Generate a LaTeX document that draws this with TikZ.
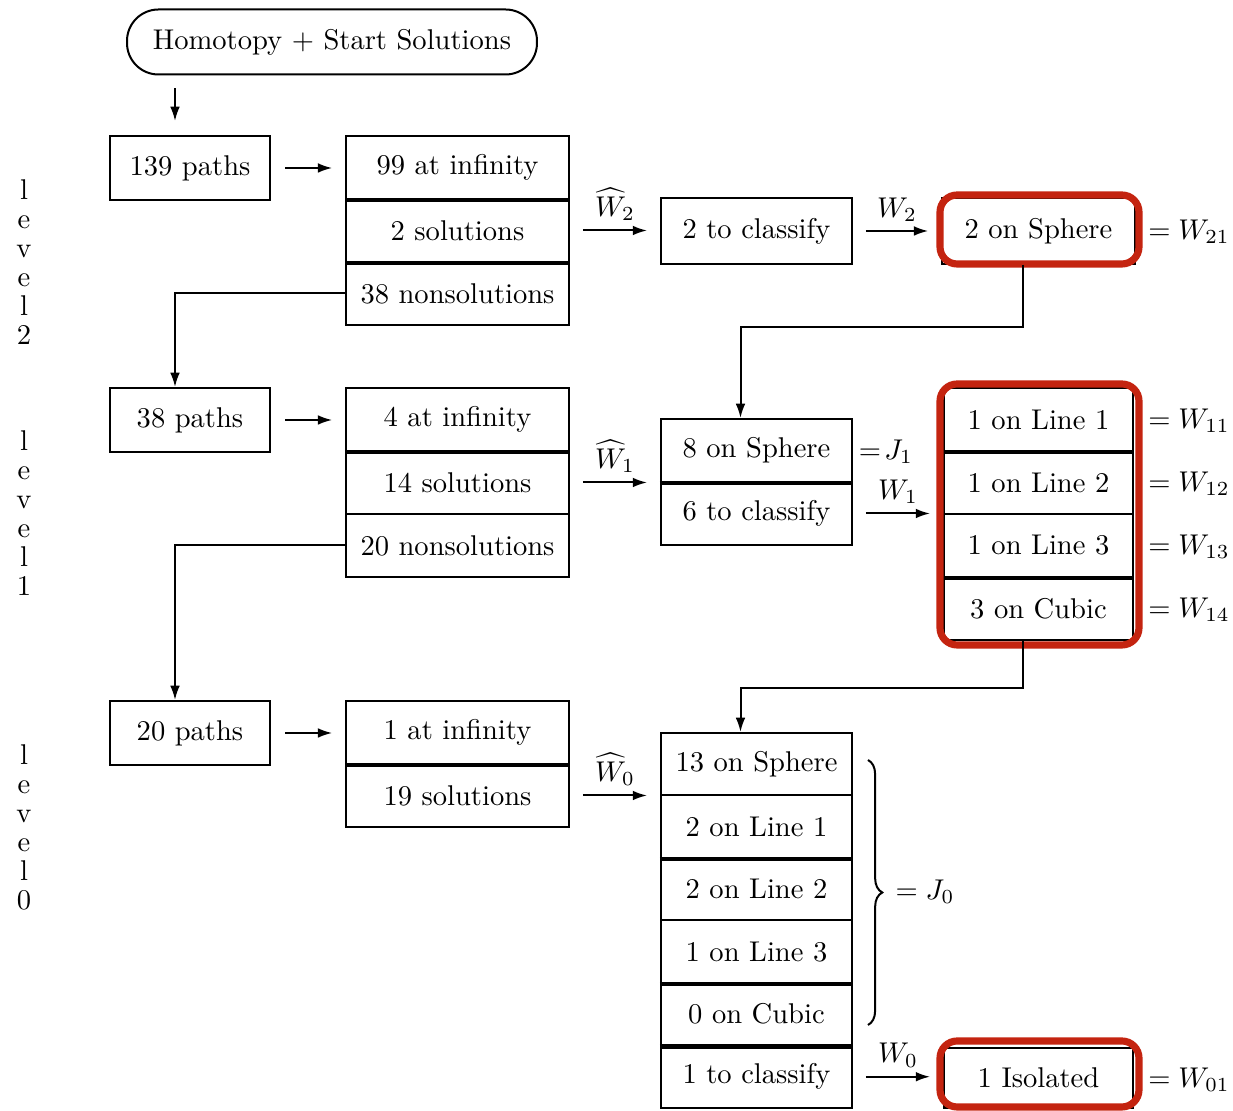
\documentclass[tikz,border=0pt]{standalone}
\usetikzlibrary{arrows.meta,decorations.pathreplacing,calc}
\definecolor{hred}{RGB}{196,36,16}
\begin{document}
\begin{tikzpicture}[x=0.35pt,y=-0.35pt,
  box/.style={draw,line width=0.7pt,inner sep=0pt,minimum height=22.05pt},
  pbox/.style={box,minimum width=56pt,minimum height=22.4pt},
  sbox/.style={box,minimum width=78pt},
  cbox/.style={box,minimum width=66.9pt},
  rbox/.style={box,minimum width=66.2pt},
  arr/.style={-{Latex[length=5pt,width=3.4pt]},line width=0.7pt},
  sepl/.style={line width=1.5pt},
  hl/.style={draw=hred,line width=2.5pt,rounded corners=6pt},
  lab/.style={inner sep=1pt},
  alab/.style={inner sep=0.5pt,above=2.5pt},
  lvl/.style={align=center,inner sep=0pt,font=\fontsize{10}{10.15}\selectfont}]
\useasboundingbox (0,0) rectangle (1233,1111);

% level labels
\node[lvl] (lv2) at (24,262) {l\\e\\v\\e\\l\\2};
\node[lvl] (lv1) at (24,513) {l\\e\\v\\e\\l\\1};
\node[lvl] (lv0) at (24,827) {l\\e\\v\\e\\l\\0};

% start
\node[draw,line width=0.7pt,rounded corners=11pt,minimum width=143.5pt,minimum height=22.75pt,inner sep=0pt]
  (home) at (332,42) {Homotopy $+$ Start Solutions};

% level 2
\node[pbox] (p139) at (190,168) {139 paths};
\node[sbox] (s1a) at (457.5,167.5) {99 at infinity};
\node[sbox] (s1b) at (457.5,230.5) {2 solutions};
\node[sbox] (s1c) at (457.5,293.5) {38 nonsolutions};
\draw[sepl] (s1a.south west) -- (s1a.south east);
\draw[sepl] (s1b.south west) -- (s1b.south east);
\node[cbox,minimum height=23.1pt] (c2) at (756.5,231) {2 to classify};
\node[box,minimum width=67.5pt,minimum height=23.1pt] (sph2) at (1038.5,231) {2 on Sphere};
\draw[hl] (940,195) rectangle (1139,264);
\node[lab] (w21) at (1189,232) {$=W_{21}$};

% level 1
\node[pbox] (p38) at (190,420) {38 paths};
\node[sbox] (s2a) at (457.5,419.5) {4 at infinity};
\node[sbox] (s2b) at (457.5,482.5) {14 solutions};
\node[sbox] (s2c) at (457.5,545.5) {20 nonsolutions};
\draw[sepl] (s2a.south west) -- (s2a.south east);
\node[cbox] (s3a) at (756.5,450.5) {8 on Sphere};
\node[cbox] (s3b) at (756.5,513.5) {6 to classify};
\draw[sepl] (s3a.south west) -- (s3a.south east);
\node[lab] (j1) at (886,452) {$=\!J_1$};
\node[rbox] (l11) at (1038.5,419.5) {1 on Line 1};
\node[rbox] (l12) at (1038.5,482.5) {1 on Line 2};
\node[rbox] (l13) at (1038.5,545.5) {1 on Line 3};
\node[rbox] (l14) at (1038.5,608.5) {3 on Cubic};
\draw[sepl] (l11.south west) -- (l11.south east);
\draw[sepl] (l13.south west) -- (l13.south east);
\draw[hl] (940,384) rectangle (1139,645);
\node[lab] (w11) at (1189,421) {$=W_{11}$};
\node[lab] (w12) at (1189,484) {$=W_{12}$};
\node[lab] (w13) at (1189,547) {$=W_{13}$};
\node[lab] (w14) at (1189,610) {$=W_{14}$};

% level 0
\node[pbox] (p20) at (190,733) {20 paths};
\node[sbox] (s5a) at (457.5,732.5) {1 at infinity};
\node[sbox] (s5b) at (457.5,795.5) {19 solutions};
\draw[sepl] (s5a.south west) -- (s5a.south east);
\node[cbox,minimum height=21.875pt] (s6a) at (756.5,764.25) {13 on Sphere};
\node[cbox,minimum height=21.875pt] (s6b) at (756.5,826.75) {2 on Line 1};
\node[cbox,minimum height=21.875pt] (s6c) at (756.5,889.25) {2 on Line 2};
\node[cbox,minimum height=21.875pt] (s6d) at (756.5,951.75) {1 on Line 3};
\node[cbox,minimum height=21.875pt] (s6e) at (756.5,1014.25) {0 on Cubic};
\node[cbox,minimum height=21.875pt] (s6f) at (756.5,1076.75) {1 to classify};
\draw[sepl] (s6b.south west) -- (s6b.south east);
\draw[sepl] (s6d.south west) -- (s6d.south east);
\draw[sepl] (s6e.south west) -- (s6e.south east);
\node[rbox,minimum height=21pt] (iso) at (1038.5,1078) {1 Isolated};
\draw[hl] (940,1041) rectangle (1139,1107);
\node[lab] (w01) at (1189,1080) {$=W_{01}$};
\draw[decorate,decoration={brace,amplitude=5pt},line width=0.7pt] (868,760) -- (868,1025);
\node[lab] (j0) at (925,892) {$=J_0$};

% connectors
\draw[arr,shorten <=4.5pt,shorten >=4.9pt] ([xshift=-5.25pt]p139.north |- home.south) -- ([xshift=-5.25pt]p139.north);
\draw[arr,shorten <=5pt,shorten >=4.5pt] (p139.east) -- (p139.east -| s1a.west);
\draw[arr,shorten <=4.5pt,shorten >=4.5pt] (s1b.east) -- node[alab] {$\widehat{W}_2$} (s1b.east -| c2.west);
\draw[arr,shorten <=4.5pt,shorten >=4.5pt] (c2.east) -- node[alab] {$W_2$} (sph2.west);
\draw[arr] ([xshift=-5.6pt]sph2.south) -- ++(0,62) -| ([xshift=-5.6pt]s3a.north);
\draw[arr] (s1c.west) -| ([xshift=-5.25pt]p38.north);

\draw[arr,shorten <=5pt,shorten >=4.5pt] (p38.east) -- (p38.east -| s2a.west);
\draw[arr,shorten <=4.5pt,shorten >=4.5pt] (s2b.east) -- node[alab] {$\widehat{W}_1$} (s2b.east -| s3a.west);
\draw[arr,shorten <=4.5pt,shorten >=4.5pt] (s3b.east) -- node[alab] {$W_1$} (s3b.east -| l11.west);
\draw[arr] ([xshift=-5.6pt]l14.south) -- ++(0,47) -| ([xshift=-5.6pt]s6a.north);
\draw[arr] (s2c.west) -| ([xshift=-5.25pt]p20.north);

\draw[arr,shorten <=5pt,shorten >=4.5pt] (p20.east) -- (p20.east -| s5a.west);
\draw[arr,shorten <=4.5pt,shorten >=4.5pt] (s5b.east) -- node[alab] {$\widehat{W}_0$} (s5b.east -| s6a.west);
\draw[arr,shorten <=4.5pt,shorten >=4.5pt] (s6f.east) -- node[alab] {$W_0$} (s6f.east -| iso.west);
\end{tikzpicture}
\end{document}
